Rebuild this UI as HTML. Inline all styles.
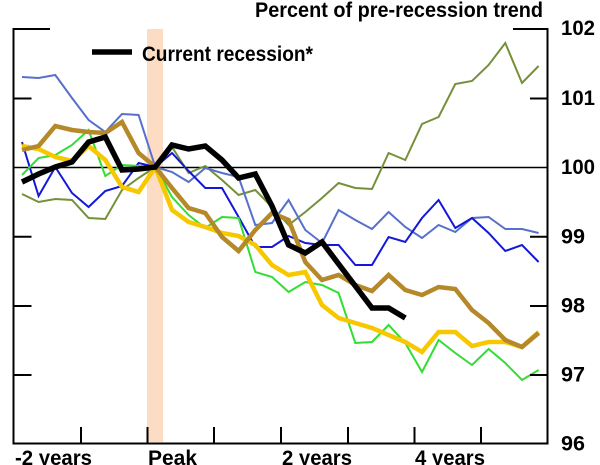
<!DOCTYPE html>
<html>
<head>
<meta charset="utf-8">
<style>
html,body{margin:0;padding:0;background:#fff;}
svg{display:block;}
text{font-family:"Liberation Sans",Arial,sans-serif;font-weight:bold;fill:#000;}
</style>
</head>
<body>
<svg width="600" height="465" viewBox="0 0 600 465" xmlns="http://www.w3.org/2000/svg">
<rect width="600" height="465" fill="#fff"/>
<!-- peak band -->
<rect x="147" y="29" width="16" height="413" fill="#fcdcc2"/>
<!-- 100 line -->
<line x1="13" y1="167.5" x2="547.5" y2="167.5" stroke="#000" stroke-width="1.6"/>
<!-- series -->
<g fill="none" stroke-linejoin="miter" stroke-linecap="butt">
<polyline stroke="#74913a" stroke-width="2" points="22,194 38.6,202 55.3,199 72,200 88.6,218 105.3,219 122,190 138.6,178 155.3,167 172,147 188.6,173 205.3,166 222,180 238.6,195 255.3,190 272,207 288.6,225 305.3,212 322,198 338.6,183 355.3,188 372,189 388.6,153 405.3,160 422,124 438.6,117 455.3,84 472,81 488.6,65 505.3,43 522,83 538.6,66"/>
<polyline stroke="#5670cc" stroke-width="2" points="22,77 38.6,78 55.3,75 72,98 88.6,120 105.3,132 122,114 138.6,115 155.3,167 172,172 188.6,182 205.3,168 222,173 238.6,177 255.3,225 272,223 288.6,200 305.3,230 322,243 338.6,210 355.3,220 372,229 388.6,212 405.3,227 422,238 438.6,225 455.3,232 472,218 488.6,217 505.3,229 522,229 538.6,233"/>
<polyline stroke="#1418d6" stroke-width="2" points="22,142 38.6,196 55.3,167 72,193 88.6,207 105.3,191 122,186 138.6,163 155.3,167 172,153 188.6,171 205.3,188 222,188 238.6,217 255.3,247 272,247 288.6,236 305.3,243 322,245 338.6,245 355.3,265 372,265 388.6,237 405.3,242 422,218 438.6,200 455.3,228 472,218 488.6,233 505.3,251 522,245 538.6,262"/>
<polyline stroke="#33dd33" stroke-width="2" points="22,175 38.6,158 55.3,155 72,145 88.6,130 105.3,176 122,165 138.6,166 155.3,167 172,197 188.6,215 205.3,228 222,217 238.6,218 255.3,272 272,277 288.6,292 305.3,282 322,285 338.6,293 355.3,343 372,342 388.6,325 405.3,343 422,372 438.6,340 455.3,353 472,365 488.6,349 505.3,363 522,380 538.6,370"/>
<polyline stroke="#f7c800" stroke-width="4.5" points="22,146 38.6,149 55.3,157 72,161 88.6,146 105.3,160 122,187 138.6,192 155.3,167 172,210 188.6,222 205.3,227 222,233 238.6,236 255.3,245 272,265 288.6,275 305.3,272 322,305 338.6,318 355.3,323 372,328 388.6,335 405.3,342 422,352 438.6,332 455.3,332 472,346 488.6,342 505.3,342 522,347 538.6,332"/>
<polyline stroke="#b5892a" stroke-width="4.5" points="22,150 38.6,146 55.3,126 72,130 88.6,132 105.3,133 122,122 138.6,153 155.3,167 172,188 188.6,208 205.3,213 222,237 238.6,251 255.3,230 272,213 288.6,220 305.3,262 322,280 338.6,275 355.3,285 372,291 388.6,275 405.3,290 422,295 438.6,287 455.3,289 472,310 488.6,323 505.3,340 522,347 538.6,333"/>
<polyline stroke="#000" stroke-width="5.5" points="22,182 38.6,174 55.3,167 72,162 88.6,142 105.3,137 122,170 138.6,169 155.3,167 172,145 188.6,149 205.3,146 222,160 238.6,178 255.3,174 272,206 288.6,245 305.3,253 322,242 338.6,264 355.3,286 372,308 388.6,308 405.3,318"/>
</g>
<!-- axes frame -->
<g stroke="#000" stroke-width="2" fill="none">
<line x1="13.5" y1="28" x2="13.5" y2="444.5"/>
<line x1="547.5" y1="28" x2="547.5" y2="444.5"/>
<line x1="12.5" y1="443.5" x2="548.5" y2="443.5"/>
<line x1="12.5" y1="29" x2="50" y2="29"/>
<line x1="513" y1="29" x2="548.5" y2="29"/>
<!-- left ticks -->
<line x1="13" y1="98.5" x2="31.5" y2="98.5"/>
<line x1="13" y1="236.7" x2="31.5" y2="236.7"/>
<line x1="13" y1="306" x2="31.5" y2="306"/>
<line x1="13" y1="375" x2="31.5" y2="375"/>
<!-- right ticks -->
<line x1="530" y1="98.5" x2="548" y2="98.5"/>
<line x1="530" y1="236.7" x2="548" y2="236.7"/>
<line x1="530" y1="306" x2="548" y2="306"/>
<line x1="530" y1="375" x2="548" y2="375"/>
<!-- bottom ticks -->
<line x1="81" y1="427" x2="81" y2="443"/>
<line x1="147.5" y1="427" x2="147.5" y2="443"/>
<line x1="214" y1="427" x2="214" y2="443"/>
<line x1="281" y1="427" x2="281" y2="443"/>
<line x1="348" y1="427" x2="348" y2="443"/>
<line x1="414.5" y1="427" x2="414.5" y2="443"/>
<line x1="481" y1="427" x2="481" y2="443"/>
</g>
<!-- legend -->
<line x1="92" y1="52" x2="132" y2="52" stroke="#000" stroke-width="5.5"/>
<text x="142" y="61" font-size="21" textLength="171" lengthAdjust="spacingAndGlyphs">Current recession*</text>
<!-- title -->
<text x="255" y="17" font-size="21" textLength="288" lengthAdjust="spacingAndGlyphs">Percent of pre-recession trend</text>
<!-- right labels -->
<g font-size="21">
<text x="561" y="35" textLength="34" lengthAdjust="spacingAndGlyphs">102</text>
<text x="561" y="105" textLength="34" lengthAdjust="spacingAndGlyphs">101</text>
<text x="561" y="174" textLength="34" lengthAdjust="spacingAndGlyphs">100</text>
<text x="561" y="243.5" textLength="24" lengthAdjust="spacingAndGlyphs">99</text>
<text x="561" y="312.5" textLength="24" lengthAdjust="spacingAndGlyphs">98</text>
<text x="561" y="381.5" textLength="24" lengthAdjust="spacingAndGlyphs">97</text>
<text x="561" y="450.5" textLength="24" lengthAdjust="spacingAndGlyphs">96</text>
</g>
<!-- bottom labels -->
<g font-size="21">
<text x="15" y="465" textLength="77" lengthAdjust="spacingAndGlyphs">-2 years</text>
<text x="148" y="465" textLength="49" lengthAdjust="spacingAndGlyphs">Peak</text>
<text x="282" y="465" textLength="70" lengthAdjust="spacingAndGlyphs">2 years</text>
<text x="415" y="465" textLength="70" lengthAdjust="spacingAndGlyphs">4 years</text>
</g>
</svg>
</body>
</html>
